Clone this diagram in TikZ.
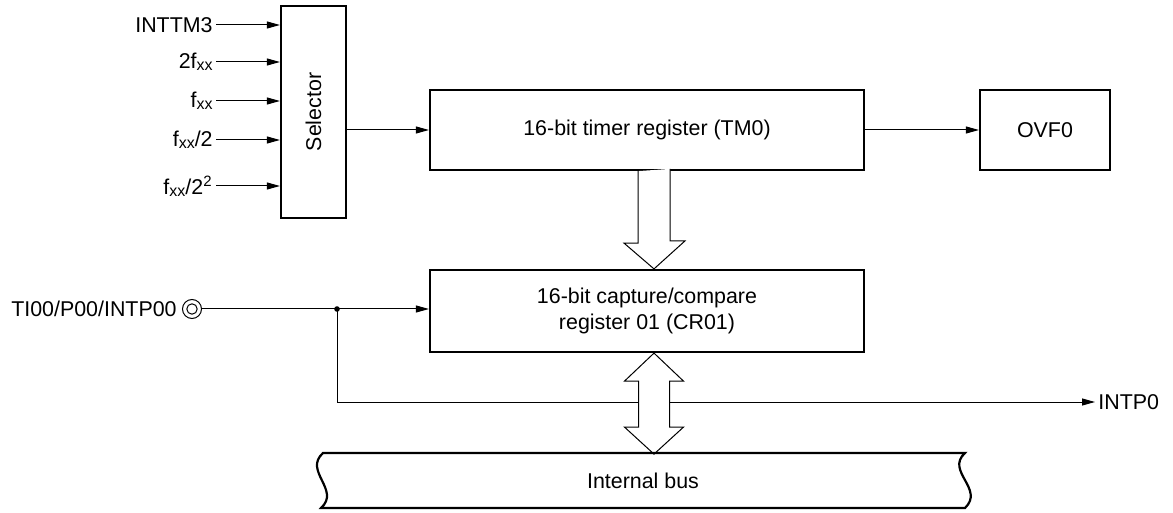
\documentclass[tikz,border=0pt]{standalone}
\usepackage{fontspec}
\setmainfont{Liberation Sans}
\usetikzlibrary{arrows.meta,calc,positioning}
\newcommand{\fxx}{f\raisebox{-0.2ex}{\fontsize{8}{8}\selectfont xx}}

\begin{document}
\begin{tikzpicture}[x=0.5pt,y=-0.5pt,font=\fontsize{10.7}{13}\selectfont,
  blk/.style={draw,line width=1.1pt,inner sep=0pt},
  wire/.style={line width=0.5pt},
  arr/.style={wire,-{Triangle[length=6.5pt,width=3.5pt]}},
  lbl/.style={inner sep=1.5pt},
  hollow/.style={draw,fill=white,line width=0.5pt}]
% 1 unit = 1 px of the 1173x513 sheet, y grows downwards
\useasboundingbox (0,0) rectangle (1173,513);

% ── Blocks ──────────────────────────────────────────────────────
\node[blk,minimum width=32.5pt,minimum height=106pt] (sel) at (313.5,112)
 {\rotatebox{90}{Selector}};
\node[blk,minimum width=217pt,minimum height=40pt] (tm) at (647,130)
 {16-bit timer register (TM0)};
\node[blk,minimum width=65pt,minimum height=40pt] (ovf) at (1045,130) {OVF0};
\node[blk,minimum width=217pt,minimum height=41pt,align=center] (cr) at (647,311)
 {16-bit capture/compare\\register 01 (CR01)};

% ── Selector inputs ─────────────────────────────────────────────
\foreach \txt/\yy [count=\i] in {INTTM3/25,2\fxx/62,\fxx/101,
  {\fxx/2}/140,{\fxx/2\textsuperscript{2}}/186}{
  \node[lbl,anchor=east] (in\i) at (216,\yy) {\txt};
  \draw[arr] (in\i.east) -- (in\i.east -| sel.west);
}

% ── Timer path ──────────────────────────────────────────────────
\draw[arr] (sel.east |- tm.west) -- (tm.west);
\draw[arr] (tm.east) -- (ovf.west);

% ── TI00 input pin and INTP0 output ─────────────────────────────
\node[lbl,anchor=east] (ti) at (180,309) {TI00/P00/INTP00};
\node[circle,draw,wire,minimum size=9.5pt,inner sep=0pt] (pin) at (192,309) {};
\draw[wire] (pin.center) circle[radius=2.6pt];
\coordinate (jn) at (337,309);
\draw[arr] (pin.east) -- (pin.east -| cr.west);
\fill (jn) circle[radius=1.4pt];
\node[lbl,anchor=west] (intp) at (1095,402) {INTP0};
\draw[arr] (jn) |- (intp.west);

% ── Hollow bus arrows ───────────────────────────────────────────
\draw[hollow] ($(tm.south)+(-9,0)$) -- ++(0,72) -- ++(-14,0)
 -- ($(cr.north)+(7,0)$) -- ++(31,-28) -- ++(-15,0) -- ++(0,-72);
\draw[hollow] ($(cr.south)+(7,0)$) -- ++(29.5,28) -- ++(-14,0) -- ++(0,46)
 -- ++(14,0) -- ++(-29.5,27) -- ++(-29.5,-27) -- ++(14,0) -- ++(0,-46)
 -- ++(-14,0) -- cycle;

% ── Internal bus ────────────────────────────────────────────────
\draw[line width=1.1pt] (323,453) -- (965,453)
 .. controls (945,471) and (985,489) .. (965,508) -- (321,508)
 .. controls (341,490) and (303,471) .. cycle;
\node (bus) at (643,481) {Internal bus};
\end{tikzpicture}
\end{document}
